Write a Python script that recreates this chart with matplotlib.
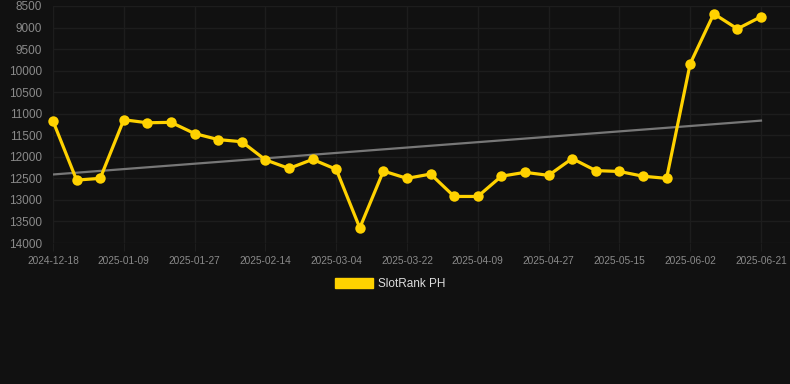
import numpy as np
import matplotlib
matplotlib.use("Agg")
import matplotlib.pyplot as plt
from matplotlib.patches import Patch

plt.rcParams['font.family'] = ['Liberation Sans', 'DejaVu Sans']

# data
ranks = [11170, 12540, 12500, 11140, 11210, 11200, 11460, 11600, 11650, 12070,
         12270, 12060, 12290, 13650, 12330, 12500, 12400, 12920, 12920, 12450,
         12360, 12430, 12040, 12320, 12340, 12450, 12500, 9840, 8680, 9030,
         8750]
tick_labels = ['2024-12-18', '2025-01-09', '2025-01-27', '2025-02-14', '2025-03-04',
               '2025-03-22', '2025-04-09', '2025-04-27', '2025-05-15', '2025-06-02',
               '2025-06-21']
trend_ends = [12410, 11160]
y_ticks = list(range(8500, 14001, 500))

bg = '#111111'
grid_c = '#1d1d1d'
yellow = '#FFD200'

fig = plt.figure(figsize=(7.9, 3.84), dpi=100, facecolor=bg)
ax = fig.add_axes([53/790, 1-243/384, (790-53)/790, (243-6)/384])
ax.set_facecolor(bg)

x = np.arange(len(ranks))
ax.plot([x[0], x[-1]], trend_ends, color='#777777', lw=1.6, zorder=2)
ax.plot(x, ranks, color=yellow, lw=2.3, marker='o', markersize=7.5,
        markeredgewidth=0, zorder=3, clip_on=False)

ax.set_xlim(0, 31.23)
ax.set_ylim(14000, 8500)
ax.set_yticks(y_ticks)
ax.set_yticklabels([str(v) for v in y_ticks])
ax.set_xticks(x[::3])
ax.set_xticklabels(tick_labels)

ax.grid(True, color=grid_c, lw=1)
ax.set_axisbelow(True)
for s in ax.spines.values():
    s.set_visible(False)
ax.tick_params(axis='y', length=0, pad=8, labelsize=8.5, labelcolor='#8a8a8a')
ax.tick_params(axis='x', length=6, color=grid_c, pad=3, labelsize=7.3, labelcolor='#8a8a8a')

handle = Patch(facecolor=yellow, edgecolor=yellow)
leg = fig.legend([handle], ['SlotRank PH'], loc='center', bbox_to_anchor=(0.494, 1-284/384),
                 frameon=False, fontsize=8.5, handlelength=3.2, handleheight=0.9,
                 handletextpad=0.5)
for t in leg.get_texts():
    t.set_color('#dddddd')

fig.savefig('out.png', dpi=100, facecolor=bg)
